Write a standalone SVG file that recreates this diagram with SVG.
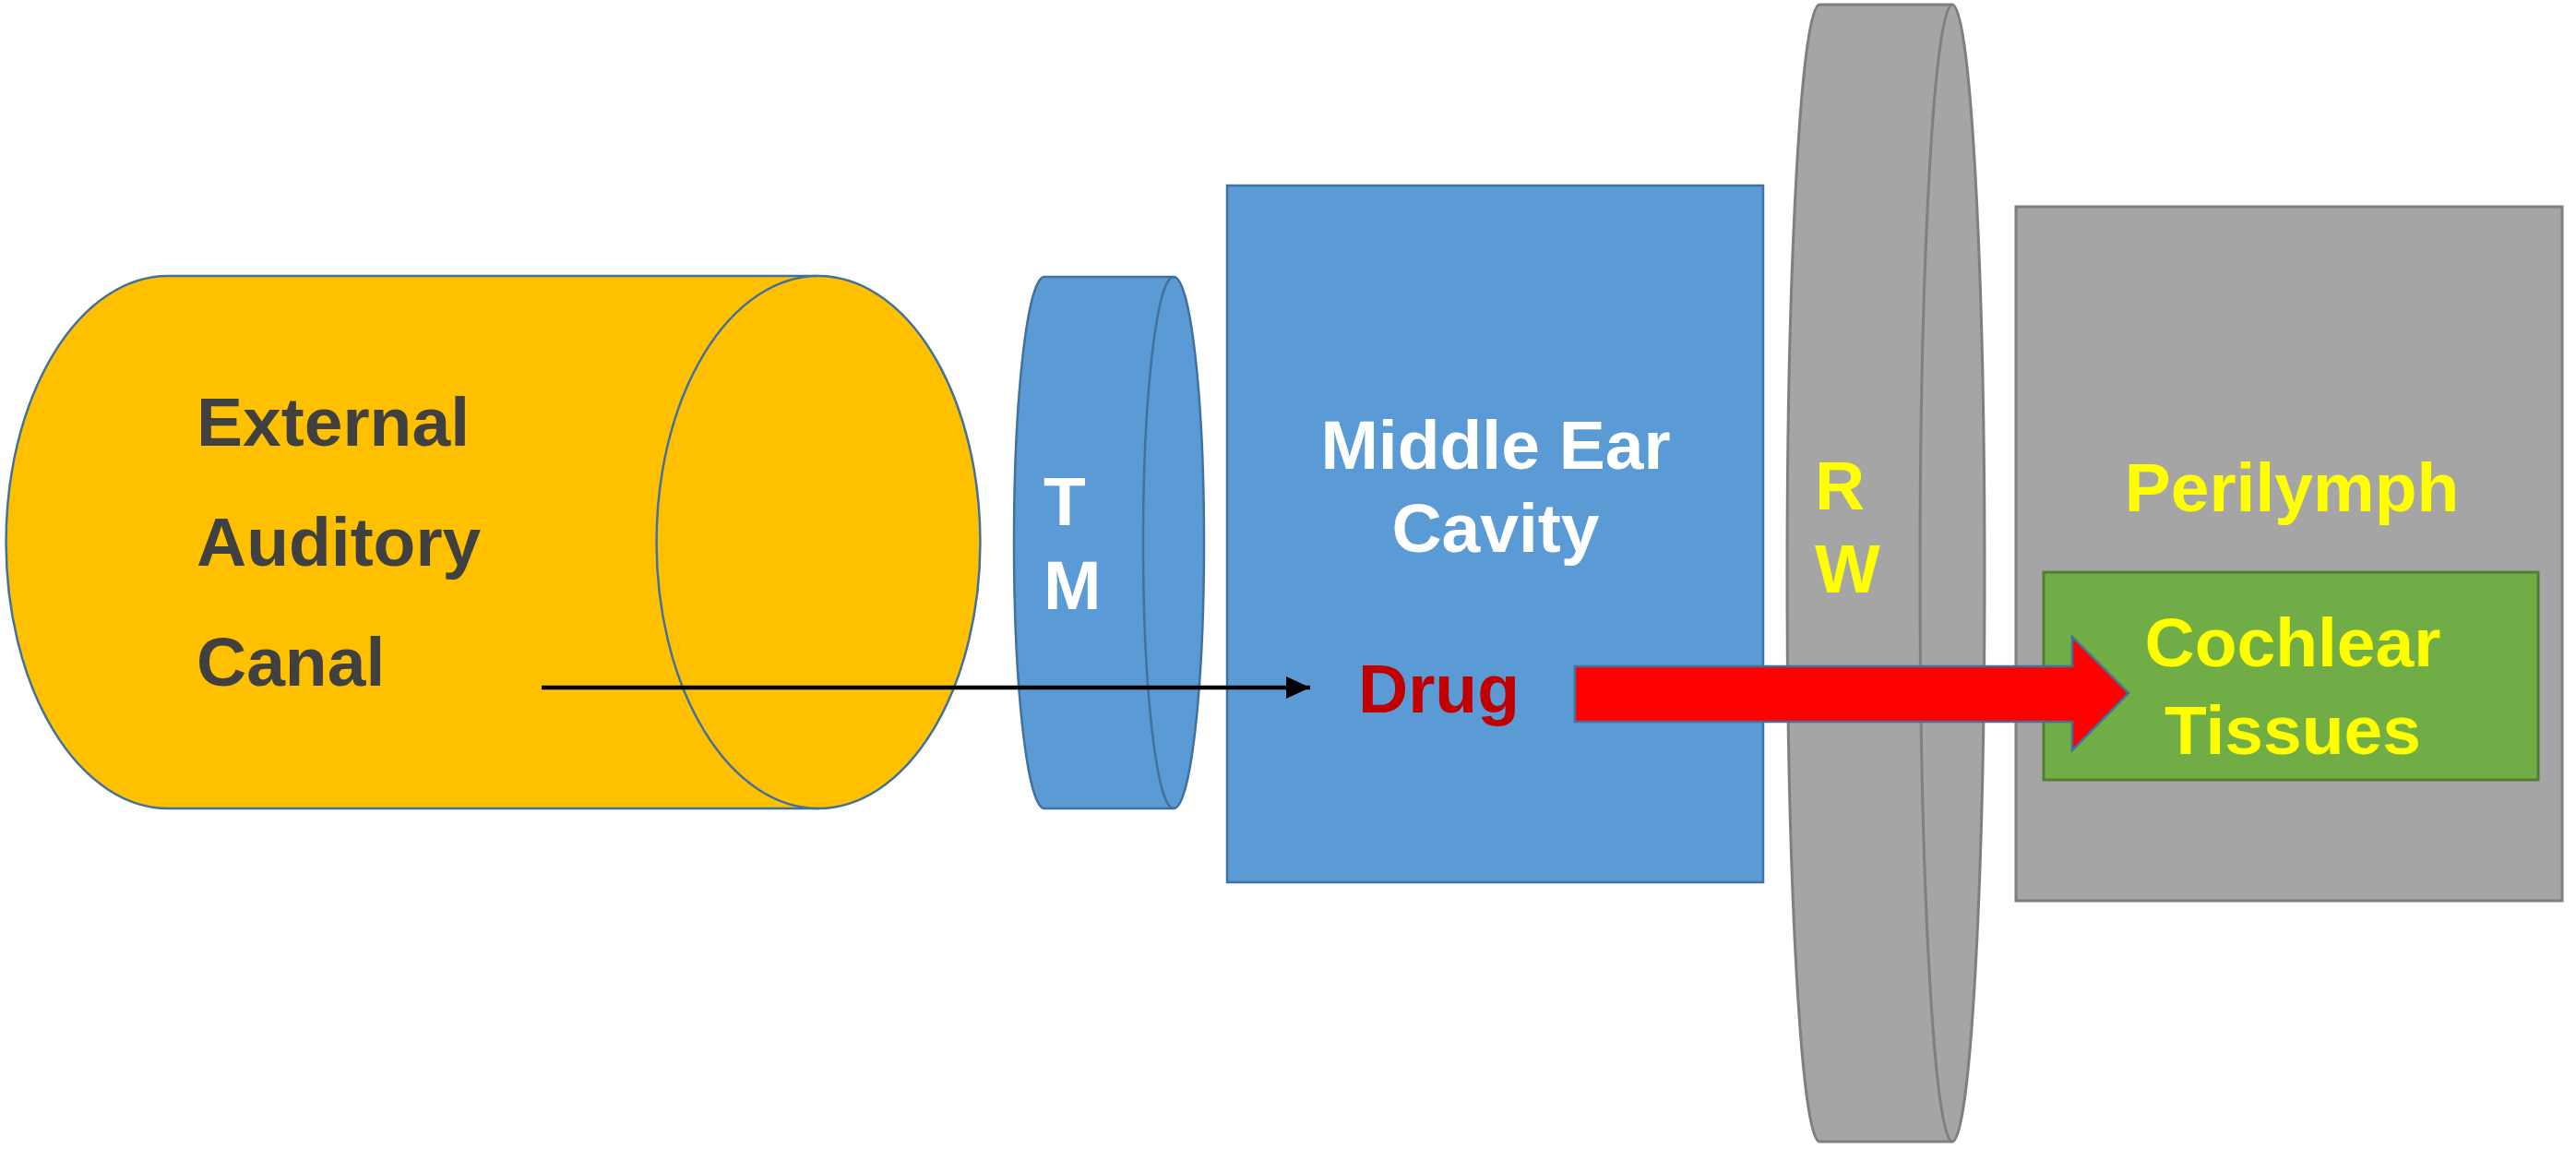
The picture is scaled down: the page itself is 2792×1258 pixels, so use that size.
<svg xmlns="http://www.w3.org/2000/svg" width="2792" height="1258" viewBox="0 0 2792 1258">
<style>
.t{font-family:"Liberation Sans",Arial,sans-serif;font-weight:bold;font-size:75px}
.dark{fill:#404040}.white{fill:#FFFFFF}.yellow{fill:#FFFF00}.red{fill:#C00000}
.blue{fill:#5B9BD5;stroke:#41719C;stroke-width:2.5}
.gray{fill:#A5A5A5;stroke:#7F7F7F;stroke-width:3}
.orange{fill:#FFC000;stroke:#41719C;stroke-width:2.5}
.green{fill:#70AD47;stroke:#507E32;stroke-width:3}
</style>
<defs>
<marker id="ah" markerUnits="userSpaceOnUse" markerWidth="30" markerHeight="26" refX="26" refY="12" orient="auto">
<polygon points="0,0 26,12 0,24" fill="#000000"/>
</marker>
</defs>
<rect width="2792" height="1258" fill="#FFFFFF"/>
<g id="canal">
<path class="orange" d="M182,299 L887,299 A175.5,288.5 0 0 1 887,876 L182,876 A175.5,288.5 0 0 1 182,299 Z"/>
<path class="orange" fill="none" d="M887,299 A175.5,288.5 0 0 0 887,876"/>
<text class="t dark" x="213" y="483">External</text>
<text class="t dark" x="213" y="613">Auditory</text>
<text class="t dark" x="213" y="743">Canal</text>
</g>
<g id="tm">
<path class="blue" d="M1132,300 L1272,300 A33,288 0 0 1 1272,876 L1132,876 A33,288 0 0 1 1132,300 Z"/>
<path class="blue" fill="none" d="M1272,300 A33,288 0 0 0 1272,876"/>
<text class="t white" x="1131" y="569">T</text>
<text class="t white" x="1131" y="660">M</text>
</g>
<g id="middle-ear">
<rect class="blue" x="1330" y="201" width="581" height="755"/>
<text class="t white" x="1621" y="508" text-anchor="middle">Middle Ear</text>
<text class="t white" x="1621" y="598" text-anchor="middle">Cavity</text>
<text class="t red" x="1472" y="772">Drug</text>
</g>
<g id="rw">
<path class="gray" d="M1972,5 L2116,5 A35,616 0 0 1 2116,1237 L1972,1237 A35,616 0 0 1 1972,5 Z"/>
<path class="gray" fill="none" d="M2116,5 A35,616 0 0 0 2116,1237"/>
<text class="t yellow" x="1967" y="552">R</text>
<text class="t yellow" x="1967" y="642">W</text>
</g>
<g id="perilymph">
<rect class="gray" x="2185" y="224" width="592" height="752"/>
<text class="t yellow" x="2484" y="554" text-anchor="middle">Perilymph</text>
</g>
<g id="cochlear">
<rect class="green" x="2215" y="620" width="536" height="225"/>
<text class="t yellow" x="2485" y="722" text-anchor="middle">Cochlear</text>
<text class="t yellow" x="2485" y="817" text-anchor="middle">Tissues</text>
</g>
<g id="connectors">
<line x1="587" y1="745" x2="1420" y2="745" stroke="#000000" stroke-width="4.5" marker-end="url(#ah)"/>
<polygon points="1707,722 2246,722 2246,690 2307,751 2246,813 2246,782 1707,782" fill="#FF0000" stroke="#41719C" stroke-width="2.5"/>
</g>
</svg>
